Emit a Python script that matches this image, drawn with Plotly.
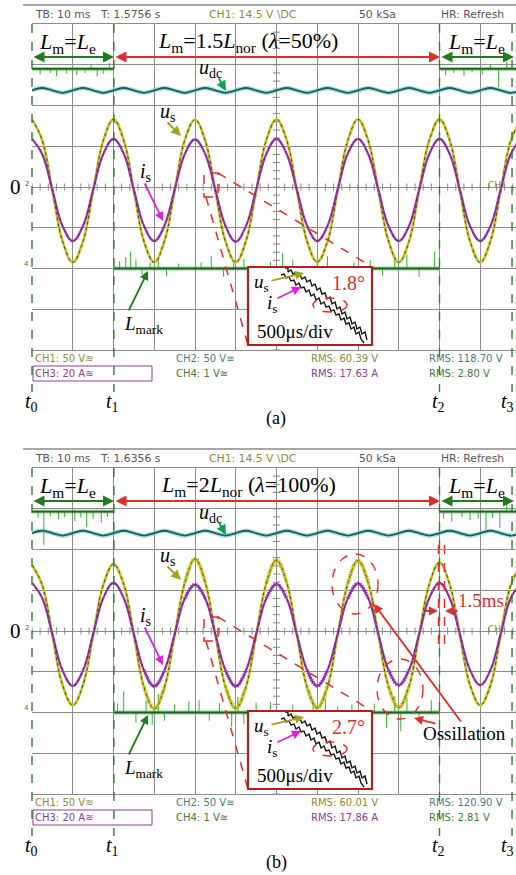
import numpy as np
import plotly.graph_objects as go

W, H = 516, 875
DY = 444                     # vertical pixel offset of panel (b)
SERIF = "Liberation Serif"
SANS = "DejaVu Sans"

# ---------------- data (units: ms / screen divisions) ----------------
t_ms = [0, 2.5, 5, 7.5, 10, 12.5, 15, 17.5,
        20, 22.5, 25, 27.5, 30, 32.5, 35, 37.5,
        40, 42.5, 45, 47.5, 50, 52.5, 55, 57.5,
        60, 62.5, 65, 67.5, 70, 72.5, 75, 77.5,
        80, 82.5, 85, 87.5, 90, 92.5, 95, 97.5,
        100, 102.5, 105, 107.5, 110, 112.5, 115, 117.5,
        120]

us_a = [1.66, 1.15, -0.09, -1.33, -1.85, -1.34, -0.10, 1.14,
        1.66, 1.15, -0.09, -1.34, -1.85, -1.33, -0.09, 1.15,
        1.65, 1.14, -0.10, -1.34, -1.85, -1.33, -0.09, 1.15,
        1.66, 1.15, -0.09, -1.33, -1.84, -1.34, -0.10, 1.14,
        1.66, 1.14, -0.09, -1.33, -1.85, -1.34, -0.09, 1.15,
        1.66, 1.15, -0.10, -1.33, -1.85, -1.33, -0.09, 1.14,
        1.65]
is_a = [1.18, 0.81, -0.07, -0.96, -1.33, -0.96, -0.07, 0.81,
        1.18, 0.82, -0.07, -0.96, -1.33, -0.95, -0.07, 0.81,
        1.17, 0.81, -0.07, -0.96, -1.34, -0.96, -0.07, 0.81,
        1.18, 0.81, -0.07, -0.95, -1.33, -0.96, -0.07, 0.82,
        1.18, 0.81, -0.07, -0.96, -1.33, -0.96, -0.07, 0.81,
        1.18, 0.81, -0.07, -0.96, -1.33, -0.96, -0.07, 0.81,
        1.18]
udc_a = [2.37, 2.43, 2.37, 2.31, 2.37, 2.43, 2.37, 2.31,
         2.37, 2.43, 2.37, 2.31, 2.37, 2.43, 2.37, 2.31,
         2.37, 2.43, 2.37, 2.31, 2.37, 2.43, 2.37, 2.31,
         2.37, 2.43, 2.37, 2.31, 2.37, 2.43, 2.37, 2.31,
         2.37, 2.43, 2.37, 2.31, 2.37, 2.43, 2.37, 2.31,
         2.37, 2.43, 2.37, 2.31, 2.37, 2.43, 2.37, 2.31,
         2.37]

us_b = [1.62, 1.13, -0.10, -1.33, -1.82, -1.33, -0.10, 1.13,
        1.64, 1.15, -0.10, -1.38, -1.91, -1.38, -0.10, 1.18,
        1.77, 1.20, -0.10, -1.37, -1.90, -1.37, -0.10, 1.17,
        1.74, 1.19, -0.10, -1.37, -1.89, -1.37, -0.10, 1.17,
        1.73, 1.19, -0.10, -1.36, -1.88, -1.36, -0.10, 1.15,
        1.68, 1.14, -0.10, -1.33, -1.82, -1.33, -0.10, 1.13,
        1.63]
is_b = [1.18, 0.81, -0.08, -0.97, -1.35, -0.97, -0.08, 0.81,
        1.18, 0.81, -0.08, -0.97, -1.36, -0.97, -0.08, 0.80,
        1.14, 0.80, -0.08, -0.97, -1.36, -0.97, -0.08, 0.80,
        1.15, 0.80, -0.08, -0.96, -1.35, -0.96, -0.08, 0.80,
        1.17, 0.81, -0.08, -0.96, -1.33, -0.96, -0.08, 0.81,
        1.18, 0.81, -0.08, -0.96, -1.33, -0.96, -0.08, 0.81,
        1.18]
udc_b = [2.40, 2.46, 2.40, 2.34, 2.40, 2.46, 2.40, 2.34,
         2.40, 2.46, 2.40, 2.34, 2.40, 2.46, 2.40, 2.34,
         2.40, 2.46, 2.40, 2.34, 2.40, 2.46, 2.40, 2.34,
         2.40, 2.46, 2.40, 2.34, 2.40, 2.46, 2.40, 2.34,
         2.40, 2.46, 2.40, 2.34, 2.40, 2.46, 2.40, 2.34,
         2.40, 2.46, 2.40, 2.34, 2.40, 2.46, 2.40, 2.34,
         2.40]

# extrema of panel (b) that carry the oscillation
osc_t_b = [30, 40, 50, 60, 70, 80, 90]

# L_mark (CH4) levels and switching instants
t_marks = [0, 20.1, 100.0, 117.8]
t_names = ["t<sub>0</sub>", "t<sub>1</sub>", "t<sub>2</sub>", "t<sub>3</sub>"]
ch4_hi = [2.90, 2.93]
ch4_lo = [-2.0, -2.0]

a_hi_spk_t = [2.0, 4.5, 6.0, 8.5, 11.0, 13.0, 14.5, 16.0, 17.5, 19.0,
              101.5, 103.5, 106.0, 108.0, 110.5, 112.5, 114.5, 116.5]
a_hi_spk_v = [2.76, 2.80, 2.72, 2.79, 2.74, 2.80, 3.02, 2.72, 2.78, 3.05,
              2.74, 2.80, 2.72, 2.82, 2.76, 3.00, 2.45, 3.08]
a_lo_spk_t = [21.5, 23.0, 24.2, 25.5, 27.0, 29.0, 31.0, 33.0, 36.0, 41.5, 44.0, 47.0,
              49.5, 52.0, 56.0, 58.5, 61.5, 64.0, 67.0, 70.0, 72.5, 76.0, 79.0, 83.0,
              86.0, 89.0, 92.0, 95.0, 98.8]
a_lo_spk_v = [-1.82, -1.72, -1.58, -1.78, -2.15, -1.85, -1.75, -2.18, -1.88, -1.85, -1.70, -2.20,
              -1.80, -1.76, -2.12, -1.84, -1.62, -1.78, -2.18, -1.82, -1.70, -2.15, -1.86, -1.80,
              -2.18, -1.72, -1.66, -2.20, -1.58]
b_hi_spk_t = [1.5, 2.9, 4.5, 6.5, 8.0, 10.5, 12.0, 13.4, 15.0, 17.0, 18.5,
              101.0, 103.0, 105.5, 107.5, 109.5, 111.4, 113.0, 114.8, 116.5]
b_hi_spk_v = [2.78, 2.11, 2.82, 2.74, 2.80, 2.70, 2.78, 2.55, 2.76, 2.66, 2.80,
              2.76, 2.68, 2.80, 2.72, 2.76, 2.50, 2.78, 2.53, 3.25]
b_lo_spk_t = [21.0, 22.5, 25.5, 28.0, 29.5, 31.0, 32.5, 35.0, 38.5, 41.0, 43.5, 46.0,
              49.0, 50.5, 52.0, 55.0, 58.5, 61.0, 64.0, 67.0, 69.0, 70.5, 72.0, 75.0,
              78.5, 81.0, 84.0, 87.0, 89.0, 90.5, 92.0, 95.0, 98.0]
b_lo_spk_v = [-1.78, -1.48, -2.25, -1.70, -2.30, -1.55, -2.20, -1.80, -1.72, -1.70, -2.20, -1.78,
              -2.35, -1.62, -2.28, -1.76, -1.74, -2.22, -1.80, -2.38, -1.70, -2.42, -1.66, -1.85,
              -1.80, -2.20, -1.78, -2.38, -1.60, -2.46, -1.65, -2.25, -1.70]

# zoomed inset traces (inset pixel units: x from box left, y from box top)
ins_us_x = [37, 40, 40, 43, 45, 47, 49, 52, 54, 57, 59, 62, 64, 67, 69, 72, 74, 77, 79, 82,
            84, 87, 89, 92, 94, 97, 99, 102, 104, 107, 109, 112, 114, 117, 119]
ins_us_y = [1, 1, 5, 3, 7, 6, 9, 8, 12, 10, 15, 13, 19, 17, 23, 21, 27, 26, 32, 30,
            37, 35, 42, 40, 47, 45, 52, 50, 57, 55, 62, 60, 67, 65, 73]
ins_is_x = [33, 36, 38, 41, 43, 46, 48, 51, 53, 56, 58, 61, 63, 66, 68, 71, 73, 76, 78, 81,
            83, 86, 88, 91, 93, 96, 98, 101, 103, 106, 108, 111, 113, 116]
ins_is_y = [8, 7, 11, 10, 14, 13, 18, 16, 21, 20, 25, 23, 29, 27, 33, 31, 37, 35, 40, 39,
            44, 43, 48, 47, 53, 51, 57, 56, 62, 60, 67, 65, 72, 76]

header_T = ["T: 1.5756 s", "T: 1.6356 s"]
rms_us = ["RMS: 60.39 V", "RMS: 60.01 V"]
rms_is = ["RMS: 17.63 A", "RMS: 17.86 A"]
rms_udc = ["RMS: 118.70 V", "RMS: 120.90 V"]
rms_ch4 = ["RMS: 2.80 V", "RMS: 2.81 V"]
big_label = ["<i>L</i><sub>m</sub>=1.5<i>L</i><sub>nor</sub> (<i>λ</i>=50%)",
             "<i>L</i><sub>m</sub>=2<i>L</i><sub>nor</sub> (<i>λ</i>=100%)"]
phase_lbl = ["1.8°", "2.7°"]
captions = ["(a)", "(b)"]

# ---------------- colours ----------------
C_US = "#c9c21e"
C_IS = "#9a36b0"
C_UDC = "#1e5a5e"
C_CH4 = "#1f5f1f"
C_SPK = "#3dbb3d"
C_RED = "#e52a2a"
C_BOX = "#b01e1e"
C_GRID = "#8c8c8c"
T_OLIVE = "#8c8a3c"
T_PURPLE = "#8a3c9a"
T_TEAL = "#3f7f86"
T_GREEN = "#3d7a3d"
T_GRAY = "#555555"

XMAX = (W - 32) / 40.75 * 10.0   # ms visible in the window

fig = go.Figure()


def px(x):
    return x / W


def py(y):
    return 1 - y / H


def text(x, y, s, size, color="black", family=SERIF, xanchor="center"):
    fig.add_annotation(x=px(x), y=py(y), xref="paper", yref="paper", text=s, showarrow=False,
                       font=dict(size=size, color=color, family=family),
                       xanchor=xanchor, yanchor="middle")


def arrow(x0, y0, x1, y1, color, width=1.6, size=1.0, both=False):
    fig.add_annotation(x=px(x1), y=py(y1), xref="paper", yref="paper",
                       ax=x0 - x1, ay=y0 - y1, axref="pixel", ayref="pixel",
                       text="", showarrow=True, arrowhead=2, arrowsize=size,
                       arrowwidth=width, arrowcolor=color,
                       arrowside="end+start" if both else "end",
                       startarrowhead=2, startarrowsize=size, standoff=0, startstandoff=0,
                       font=dict(size=10))


def line(x0, y0, x1, y1, color, width=1.5, dash="solid"):
    fig.add_shape(type="line", xref="paper", yref="paper", x0=px(x0), y0=py(y0),
                  x1=px(x1), y1=py(y1), line=dict(color=color, width=width, dash=dash))


def spikes(ts, vs, base):
    xs, ys = [], []
    for t, v in zip(ts, vs):
        xs += [t, t, None]
        ys += [base, v, None]
    return xs, ys


panels = [
    dict(xa="x", ya="y", xi="x3", yi="y3", us=us_a, i=is_a, udc=udc_a,
         hs=(a_hi_spk_t, a_hi_spk_v), ls=(a_lo_spk_t, a_lo_spk_v)),
    dict(xa="x2", ya="y2", xi="x4", yi="y4", us=us_b, i=is_b, udc=udc_b,
         hs=(b_hi_spk_t, b_hi_spk_v), ls=(b_lo_spk_t, b_lo_spk_v)),
]

tick_x = np.arange(0, XMAX, 2.0)
tick_y = np.arange(-4, 4.01, 0.2)

for p, P in enumerate(panels):
    xa, ya = P["xa"], P["ya"]
    o = p * DY
    # centre-line ticks and trigger marker
    fig.add_trace(go.Scatter(x=tick_x, y=[0] * len(tick_x), mode="markers", xaxis=xa, yaxis=ya,
                             marker=dict(symbol="line-ns", size=5, line=dict(color="#888", width=1)),
                             hoverinfo="skip"))
    fig.add_trace(go.Scatter(x=[60] * len(tick_y), y=tick_y, mode="markers", xaxis=xa, yaxis=ya,
                             marker=dict(symbol="line-ew", size=5, line=dict(color="#888", width=1)),
                             hoverinfo="skip"))
    fig.add_trace(go.Scatter(x=[60], y=[4.05], mode="markers", xaxis=xa, yaxis=ya, cliponaxis=False,
                             marker=dict(symbol="triangle-down-open", size=7,
                                         line=dict(color="#777", width=1)), hoverinfo="skip"))
    # u_dc
    fig.add_trace(go.Scatter(x=t_ms, y=P["udc"], mode="lines", xaxis=xa, yaxis=ya,
                             line=dict(color="rgba(90,200,205,0.55)", width=4.5, shape="spline")))
    fig.add_trace(go.Scatter(x=t_ms, y=P["udc"], mode="lines", xaxis=xa, yaxis=ya,
                             line=dict(color=C_UDC, width=1.8, shape="spline")))
    # L_mark (CH4)
    hi, lo = ch4_hi[p], ch4_lo[p]
    sx1, sy1 = spikes(P["hs"][0], P["hs"][1], hi)
    sx2, sy2 = spikes(P["ls"][0], P["ls"][1], lo)
    fig.add_trace(go.Scatter(x=sx1 + sx2, y=sy1 + sy2, mode="lines", xaxis=xa, yaxis=ya,
                             line=dict(color=C_SPK, width=1.1)))
    fig.add_trace(go.Scatter(x=[0, t_marks[1], None, t_marks[1], t_marks[2], None, t_marks[2], XMAX + 2],
                             y=[hi, hi, None, lo, lo, None, hi, hi], mode="lines", xaxis=xa, yaxis=ya,
                             line=dict(color="rgba(70,170,70,0.5)", width=4)))
    fig.add_trace(go.Scatter(x=[0, t_marks[1], None, t_marks[1], t_marks[2], None, t_marks[2], XMAX + 2],
                             y=[hi, hi, None, lo, lo, None, hi, hi], mode="lines", xaxis=xa, yaxis=ya,
                             line=dict(color=C_CH4, width=1.8)))
    # u_s and i_s
    fig.add_trace(go.Scatter(x=t_ms, y=P["us"], mode="lines", xaxis=xa, yaxis=ya,
                             line=dict(color=C_US, width=2.6, shape="spline", smoothing=1.1)))
    fig.add_trace(go.Scatter(x=t_ms, y=P["us"], mode="lines", xaxis=xa, yaxis=ya,
                             line=dict(color="rgba(40,40,10,0.8)", width=1, dash="dot", shape="spline",
                                       smoothing=1.1)))
    fig.add_trace(go.Scatter(x=t_ms, y=P["i"], mode="lines", xaxis=xa, yaxis=ya,
                             line=dict(color=C_IS, width=2.2, shape="spline", smoothing=1.1)))
    fig.add_trace(go.Scatter(x=t_ms, y=P["i"], mode="lines", xaxis=xa, yaxis=ya,
                             line=dict(color="rgba(50,10,60,0.6)", width=0.8, dash="dot", shape="spline",
                                       smoothing=1.1)))
    if p == 1:
        for tt in osc_t_b:
            k = t_ms.index(tt)
            seg_t = t_ms[k - 1:k + 2]
            fig.add_trace(go.Scatter(x=seg_t, y=P["us"][k - 1:k + 2], mode="lines", xaxis=xa, yaxis=ya,
                                     line=dict(color="rgba(185,180,20,0.85)", width=4.4,
                                               dash="1px,1.6px", shape="spline", smoothing=1.1)))
            fig.add_trace(go.Scatter(x=seg_t, y=P["i"][k - 1:k + 2], mode="lines", xaxis=xa, yaxis=ya,
                                     line=dict(color="rgba(150,50,175,0.85)", width=4.0,
                                               dash="1px,1.6px", shape="spline", smoothing=1.1)))
    # inset traces
    fig.add_trace(go.Scatter(x=ins_us_x, y=ins_us_y, mode="lines", xaxis=P["xi"], yaxis=P["yi"],
                             line=dict(color="#111", width=1.4)))
    fig.add_trace(go.Scatter(x=ins_is_x, y=ins_is_y, mode="lines", xaxis=P["xi"], yaxis=P["yi"],
                             line=dict(color="#111", width=1.4)))

    # ---- frame & annotations (pixel positions) ----
    line(23, 5 + o, W, 5 + o, "#8a8a8a", 1.5)
    # header
    text(33, 14 + o, "TB: 10 ms", 10.8, T_GRAY, SANS, "left")
    text(98, 14 + o, header_T[p], 10.8, T_GRAY, SANS, "left")
    text(207, 14 + o, "CH1: 14.5 V \\DC", 10.8, T_OLIVE, SANS, "left")
    text(357, 14 + o, "50 kSa", 10.8, T_GRAY, SANS, "left")
    text(439, 14 + o, "HR: Refresh", 10.8, T_GRAY, SANS, "left")
    # footer
    text(33, 358 + o, "CH1: 50 V≋", 10, T_OLIVE, SANS, "left")
    text(33, 373 + o, "CH3: 20 A≋", 10, T_PURPLE, SANS, "left")
    fig.add_shape(type="rect", xref="paper", yref="paper", x0=px(33), x1=px(152), y0=py(381 + o),
                  y1=py(366 + o), line=dict(color=T_PURPLE, width=1))
    text(174, 358 + o, "CH2: 50 V≅", 10, T_TEAL, SANS, "left")
    text(174, 373 + o, "CH4: 1 V≅", 10, T_GREEN, SANS, "left")
    text(309, 358 + o, rms_us[p], 10, T_OLIVE, SANS, "left")
    text(309, 373 + o, rms_is[p], 10, T_PURPLE, SANS, "left")
    text(427, 358 + o, rms_udc[p], 10, T_TEAL, SANS, "left")
    text(427, 373 + o, rms_ch4[p], 10, T_GREEN, SANS, "left")
    # vertical dashed instants
    for tm in t_marks:
        xpx = 32 + tm * 4.075
        line(xpx, 24 + o, xpx, 392 + o, "#2e7d32", 1.4, "dash")
    for j, (tm, nm) in enumerate(zip(t_marks, t_names)):
        xpx = 32 + tm * 4.075
        lbl = "<i>" + nm[:1] + "</i>" + nm[1:]
        if j == 3:
            text(516, 402 + o, lbl, 20, xanchor="right")
        else:
            text(xpx - 1, 402 + o, lbl, 20)
    text(276, 418 + o, captions[p], 18)
    # zero / channel marks
    text(15, 187 + o, "0", 21)
    text(27, 184 + o, "2", 7, "#6b4c7a", SANS)
    text(26, 264 + o, "4", 7, T_GREEN, SANS)
    text(497, 185 + o, "CH1", 9, T_OLIVE, SANS)
    # region labels & arrows
    text(67, 43 + o, "<i>L</i><sub>m</sub>=<i>L</i><sub>e</sub>", 22)
    text(476, 43 + o, "<i>L</i><sub>m</sub>=<i>L</i><sub>e</sub>", 22)
    text(248, 42 + o, big_label[p], 22)
    arrow(32, 57 + o, 114, 57 + o, "#1e7b1e", 2, 1.1, True)
    arrow(114, 57 + o, 440, 57 + o, C_RED, 2, 1.1, True)
    arrow(440, 57 + o, 514, 57 + o, "#1e7b1e", 2, 1.1, True)
    text(210, 69 + o, "<i>u</i><sub>dc</sub>", 20)
    arrow(218, 77 + o, 226, 91 + o, "#12a050", 2, 1.0)
    text(167, 112 + o, "<i>u</i><sub>s</sub>", 20)
    arrow(166, 121 + o, 181, 136 + o, "#a6a01a", 2, 1.0)
    text(145, 172 + o, "<i>i</i><sub>s</sub>", 20)
    arrow(144, 182 + o, 163, 221 + o, "#e020e0", 1.8, 1.0)
    text(143, 325 + o, "<i>L</i><sub>mark</sub>", 19)
    arrow(128, 312 + o, 148, 271 + o, "#1e7b1e", 1.8, 1.0)
    # zoom box and guide lines
    fig.add_shape(type="rect", xref="paper", yref="paper", x0=px(204), x1=px(218), y0=py(197 + o),
                  y1=py(173 + o), line=dict(color=C_RED, width=1.5, dash="dash"))
    line(218, 173 + o, 372, 267 + o, C_RED, 1.5, "dash")
    line(206, 197 + o, 248, 345 + o, C_RED, 1.5, "dash")
    # inset
    fig.add_shape(type="rect", xref="paper", yref="paper", x0=px(248), x1=px(372), y0=py(345 + o),
                  y1=py(267 + o), line=dict(color=C_BOX, width=2.2))
    text(261, 283 + o, "<i>u</i><sub>s</sub>", 19)
    text(272, 304 + o, "<i>i</i><sub>s</sub>", 19)
    arrow(270, 281 + o, 304, 273 + o, "#a6a01a", 1.8, 1.0)
    arrow(276, 299 + o, 301, 287 + o, "#e020e0", 1.8, 1.0)
    text(348, 283 + o, phase_lbl[p], 20, C_RED)
    text(295, 331 + o, "500μs/div", 19)
    fig.add_shape(type="circle", xref="paper", yref="paper", x0=px(313), x1=px(347), y0=py(312 + o),
                  y1=py(298 + o), line=dict(color=C_RED, width=1.4, dash="dash"))

# panel (b) extras
fig.add_shape(type="circle", xref="paper", yref="paper", x0=px(332), x1=px(378), y0=py(614),
              y1=py(554), line=dict(color=C_RED, width=1.4, dash="dash"))
fig.add_shape(type="circle", xref="paper", yref="paper", x0=px(377), x1=px(423), y0=py(719),
              y1=py(659), line=dict(color=C_RED, width=1.4, dash="dash"))
text(464, 733, "Ossillation", 19)
arrow(462, 723, 374, 604, C_RED, 1.8, 1.0)
arrow(437, 724, 414, 718, C_RED, 1.8, 1.0)
line(438.5, 545, 438.5, 653, C_RED, 1.4, "dash")
line(444.5, 545, 444.5, 653, C_RED, 1.4, "dash")
arrow(423, 611, 438, 611, C_RED, 1.8, 1.0)
arrow(459, 611, 445, 611, C_RED, 1.8, 1.0)
text(481, 600, "1.5ms", 19, C_RED)

ax_common = dict(showgrid=True, gridcolor=C_GRID, gridwidth=1, zeroline=False,
                 showticklabels=False, ticks="", fixedrange=True)
hidden = dict(visible=False, fixedrange=True)
fig.update_layout(
    width=W, height=H, margin=dict(l=0, r=0, t=0, b=0),
    paper_bgcolor="white", plot_bgcolor="white", showlegend=False,
    xaxis=dict(domain=[32 / W, 1], range=[0, XMAX], dtick=10, tick0=0, anchor="y",
               showline=True, mirror=True, linecolor=C_GRID, **ax_common),
    yaxis=dict(domain=[1 - 350 / H, 1 - 24 / H], range=[-4, 4], dtick=1, anchor="x", **ax_common),
    xaxis2=dict(domain=[32 / W, 1], range=[0, XMAX], dtick=10, tick0=0, anchor="y2",
                showline=True, mirror=True, linecolor=C_GRID, **ax_common),
    yaxis2=dict(domain=[1 - (350 + DY) / H, 1 - (24 + DY) / H], range=[-4, 4], dtick=1, anchor="x2",
                **ax_common),
    xaxis3=dict(domain=[248 / W, 372 / W], range=[0, 124], anchor="y3", **hidden),
    yaxis3=dict(domain=[1 - 345 / H, 1 - 267 / H], range=[78, 0], anchor="x3", **hidden),
    xaxis4=dict(domain=[248 / W, 372 / W], range=[0, 124], anchor="y4", **hidden),
    yaxis4=dict(domain=[1 - (345 + DY) / H, 1 - (267 + DY) / H], range=[78, 0], anchor="x4", **hidden),
)

fig.write_html("out.html")
